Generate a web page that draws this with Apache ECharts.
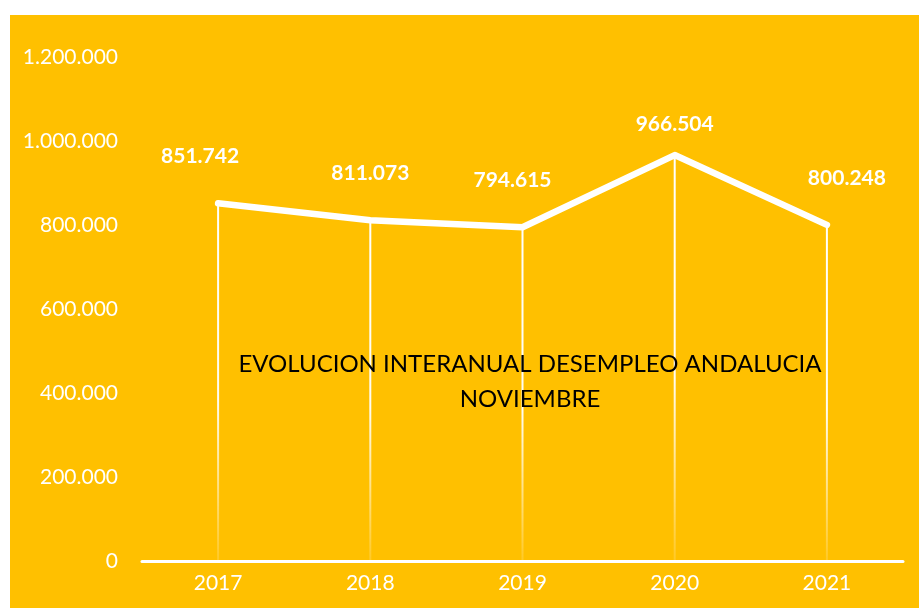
<!DOCTYPE html>
<html>
<head>
<meta charset="utf-8">
<script src="https://cdn.jsdelivr.net/npm/echarts@6/dist/echarts.min.js"></script>
<style>
  html, body { margin: 0; padding: 0; background: #fff; }
  #chart { position: absolute; left: 10px; top: 15px; width: 909px; height: 593px; background: #FFC000; }
</style>
</head>
<body>
<div id="chart"></div>
<script>
// datos
var years = ['2017', '2018', '2019', '2020', '2021'];
var desempleo = [851742, 811073, 794615, 966504, 800248];
var yTicks = [0, 200000, 400000, 600000, 800000, 1000000, 1200000];

// ajuste de etiquetas (solo estilo)
var labelShift = [[-18, 0], [0, 0], [-10, 0], [0, 16], [20, 0]];

function miles(v) {
    return String(v).replace(/\B(?=(\d{3})+(?!\d))/g, '.');
}

var myChart = echarts.init(document.getElementById('chart'));

var lineData = [];
for (var i = 0; i < desempleo.length; i++) {
    lineData.push({
        value: desempleo[i],
        label: { offset: labelShift[i] }
    });
}

var option = {
    animation: false,
    textStyle: { fontFamily: 'Lato' },
    title: {
        text: 'EVOLUCION INTERANUAL DESEMPLEO ANDALUCIA\nNOVIEMBRE',
        left: 515,
        top: 327,
        textAlign: 'center',
        textStyle: {
            color: '#000',
            fontSize: 24,
            fontWeight: 'normal',
            fontFamily: 'Lato',
            lineHeight: 35
        }
    },
    grid: { left: 132, right: 16, top: 42, bottom: 47 },
    xAxis: {
        type: 'category',
        data: years,
        boundaryGap: true,
        axisLine: { lineStyle: { color: '#fff', width: 3 } },
        axisTick: { show: false },
        axisLabel: { color: '#fff', fontSize: 21, margin: 12 }
    },
    yAxis: {
        type: 'value',
        min: yTicks[0],
        max: yTicks[yTicks.length - 1],
        interval: 200000,
        axisLine: { show: false },
        axisTick: { show: false },
        splitLine: { show: false },
        axisLabel: {
            color: '#fff',
            fontSize: 21,
            margin: 24,
            formatter: function (v) { return miles(v); }
        }
    },
    series: [{
        name: 'guia',
        type: 'bar',
        barWidth: 2,
        silent: true,
        itemStyle: {
            color: new echarts.graphic.LinearGradient(0, 0, 0, 1, [
                { offset: 0, color: 'rgba(255,255,255,1)' },
                { offset: 0.55, color: 'rgba(255,255,255,0.95)' },
                { offset: 1, color: 'rgba(255,255,255,0.15)' }
            ])
        },
        data: desempleo
    }, {
        name: 'Desempleo',
        type: 'line',
        symbol: 'circle',
        symbolSize: 1,
        showSymbol: true,
        itemStyle: { color: '#fff' },
        lineStyle: { color: '#fff', width: 6.5, cap: 'round', join: 'round' },
        label: {
            show: true,
            position: 'top',
            distance: 36,
            color: '#fff',
            fontSize: 21,
            fontWeight: 'bold',
            formatter: function (p) { return miles(p.value); }
        },
        data: lineData
    }]
};

myChart.setOption(option);
</script>
</body>
</html>
